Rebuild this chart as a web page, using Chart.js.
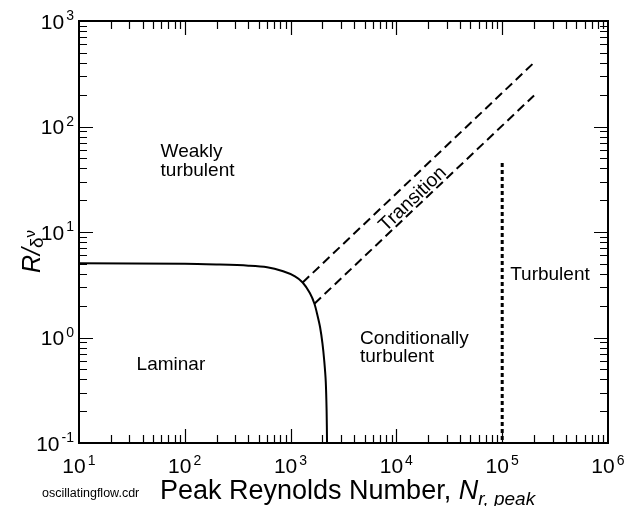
<!DOCTYPE html>
<html>
<head>
<meta charset="utf-8">
<script src="https://cdn.jsdelivr.net/npm/chart.js@4.4.1/dist/chart.umd.min.js"></script>
<style>
  html, body { margin: 0; padding: 0; background: #fff; }
  #wrap { width: 625px; height: 506px; position: relative; }
</style>
</head>
<body>
<div id="wrap"><canvas id="regimeChart"></canvas></div>
<script>
// laminar / conditionally turbulent boundary (solid)
const laminarRe = [10, 100, 200, 400, 600, 850, 1100, 1300, 1520, 1680, 1800, 1900, 2000, 2080, 2150, 2190, 2210];
const laminarR  = [5.05, 5.0, 4.92, 4.8, 4.64, 4.24, 3.8, 3.32, 2.64, 2.09, 1.6, 1.25, 0.88, 0.6, 0.38, 0.2, 0.1];

// transition band (dashed)
const transUpperRe = [1300, 205000];
const transUpperR  = [3.32, 413];
const transLowerRe = [1680, 200000];
const transLowerR  = [2.09, 197];

// fully turbulent limit (dotted)
const turbRe = [100000, 100000];
const turbR  = [45, 0.1];

// axis decades
const xDecades = [1, 2, 3, 4, 5, 6];
const yDecades = [-1, 0, 1, 2, 3];

const FONT = '"Liberation Sans", Arial, Helvetica, sans-serif';

function pts(xs, ys) {
    return xs.map((x, i) => ({ x: x, y: ys[i] }));
}

function line(xs, ys, width, dash, tension) {
    return {
        data: pts(xs, ys),
        showLine: true,
        borderColor: '#000',
        borderWidth: width,
        borderDash: dash,
        pointRadius: 0,
        tension: tension || 0,
        fill: false
    };
}

// region labels, anchored in data units (left edge, baseline)
const regionText = [
    { lines: ['Weakly', 'turbulent'], x: 59, y: 51 },
    { lines: ['Laminar'], x: 35, y: 0.49 },
    { lines: ['Turbulent'], x: 119000, y: 3.52 },
    { lines: ['Conditionally', 'turbulent'], x: 4530, y: 0.87 }
];

function drawPow(ctx, exp, x, y, mode) {
    const base = '10', sup = String(exp);
    ctx.font = '21px ' + FONT;
    const wb = ctx.measureText(base).width;
    ctx.font = '14px ' + FONT;
    const ws = ctx.measureText(sup).width;
    ctx.textAlign = 'left';
    ctx.textBaseline = 'alphabetic';
    let bx;
    if (mode === 'y') {
        bx = x - ws - 1 - wb;
    } else {
        bx = x - 5 - wb / 2;
    }
    ctx.font = '21px ' + FONT;
    ctx.fillText(base, bx, y);
    ctx.font = '14px ' + FONT;
    ctx.fillText(sup, bx + wb + 2, y - 8.5);
}

const decorations = {
    id: 'decorations',
    afterDraw(chart) {
        const ctx = chart.ctx;
        const xs = chart.scales.x, ys = chart.scales.y;
        const a = chart.chartArea;
        ctx.save();
        ctx.fillStyle = '#000';
        ctx.strokeStyle = '#000';

        // inward ticks on all four sides
        ctx.lineWidth = 1.2;
        ctx.beginPath();
        for (let d = 1; d < 6; d++) {
            for (let k = 1; k < 10; k++) {
                const v = k * Math.pow(10, d);
                const px = Math.round(xs.getPixelForValue(v)) + 0.5;
                const len = k === 1 ? 14 : 8;
                if (k === 1 && d === 1) continue;
                ctx.moveTo(px, a.bottom); ctx.lineTo(px, a.bottom - len);
                ctx.moveTo(px, a.top); ctx.lineTo(px, a.top + len);
            }
        }
        for (let d = -1; d < 3; d++) {
            for (let k = 1; k < 10; k++) {
                const v = k * Math.pow(10, d);
                const py = Math.round(ys.getPixelForValue(v)) + 0.5;
                const len = k === 1 ? 14 : 8;
                if (k === 1 && d === -1) continue;
                ctx.moveTo(a.left, py); ctx.lineTo(a.left + len, py);
                ctx.moveTo(a.right, py); ctx.lineTo(a.right - len, py);
            }
        }
        ctx.stroke();

        // frame
        ctx.lineWidth = 2;
        ctx.strokeRect(a.left, a.top, a.right - a.left, a.bottom - a.top);

        // tick labels
        xDecades.forEach(e => drawPow(ctx, e, xs.getPixelForValue(Math.pow(10, e)), a.bottom + 30, 'x'));
        yDecades.forEach(e => drawPow(ctx, e === -1 ? '-1' : e, 73, ys.getPixelForValue(Math.pow(10, e)) + 7.5, 'y'));

        // region labels
        ctx.font = '19px ' + FONT;
        ctx.textAlign = 'left';
        regionText.forEach(r => {
            const px = xs.getPixelForValue(r.x), py = ys.getPixelForValue(r.y);
            r.lines.forEach((t, i) => ctx.fillText(t, px, py + i * 18.5));
        });

        // label along the transition band
        const p0x = xs.getPixelForValue(transUpperRe[0]), p0y = ys.getPixelForValue(transUpperR[0]);
        const p1x = xs.getPixelForValue(transUpperRe[1]), p1y = ys.getPixelForValue(transUpperR[1]);
        const ang = Math.atan2(p1y - p0y, p1x - p0x);
        ctx.save();
        ctx.translate(xs.getPixelForValue(14300), ys.getPixelForValue(20.5));
        ctx.rotate(ang);
        ctx.font = '19.5px ' + FONT;
        ctx.textAlign = 'center';
        ctx.textBaseline = 'middle';
        ctx.fillText('Transition', 0, 0);
        ctx.restore();

        // x axis title
        ctx.textAlign = 'left';
        ctx.textBaseline = 'alphabetic';
        let tx = 160;
        const tb = 499;
        ctx.font = '27px ' + FONT;
        ctx.fillText('Peak Reynolds Number, ', tx, tb);
        tx += ctx.measureText('Peak Reynolds Number, ').width;
        ctx.font = 'italic 27px ' + FONT;
        ctx.fillText('N', tx, tb);
        tx += ctx.measureText('N').width;
        ctx.font = 'italic 19px ' + FONT;
        ctx.fillText('r, peak', tx, tb + 6);

        // y axis title
        ctx.save();
        ctx.translate(40, 273);
        ctx.rotate(-Math.PI / 2);
        let ty = 0;
        ctx.font = 'italic 25px ' + FONT;
        ctx.fillText('R/', ty, 0);
        ty += ctx.measureText('R/').width;
        ctx.font = '19px ' + FONT;
        ctx.fillText('\u03b4', ty, 3);
        ty += ctx.measureText('\u03b4').width;
        ctx.font = '15px ' + FONT;
        ctx.fillText('\u03bd', ty, -5);
        ctx.restore();

        // file tag
        ctx.font = '12.5px ' + FONT;
        ctx.fillText('oscillatingflow.cdr', 42, 497);

        ctx.restore();
    }
};

new Chart(document.getElementById('regimeChart'), {
    type: 'scatter',
    data: {
        datasets: [
            line(laminarRe, laminarR, 2, [], 0.3),
            line(transUpperRe, transUpperR, 2, [9, 5]),
            line(transLowerRe, transLowerR, 2, [9, 5]),
            line(turbRe, turbR, 3, [4, 3])
        ]
    },
    options: {
        responsive: true,
        maintainAspectRatio: false,
        animation: false,
        devicePixelRatio: 1,
        layout: { padding: { left: 79, right: 17, top: 21, bottom: 63 } },
        scales: {
            x: { type: 'logarithmic', min: 10, max: 1000000, display: false },
            y: { type: 'logarithmic', min: 0.1, max: 1000, display: false }
        },
        plugins: {
            legend: { display: false },
            tooltip: { enabled: false }
        }
    },
    plugins: [decorations]
});
</script>
</body>
</html>
